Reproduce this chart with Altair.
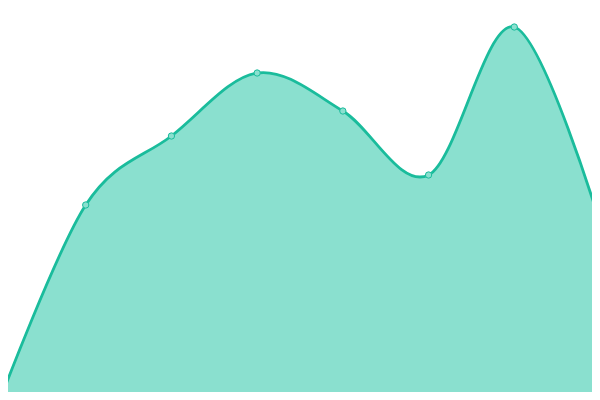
import altair as alt
import pandas as pd

# data (index along x, value along y)
idx = [0, 1, 2, 3, 4, 5, 6, 7]
values = [0, 195, 264, 327, 289, 225, 373, 177]

df = pd.DataFrame({"i": idx, "v": values})

# the page has an 8px margin: draw a 584x384 plot and shift the domains so
# that the marks land where they sit in the 600x400 reference
W, H = 584, 384
step = 600 / 7
xs = alt.Scale(domain=[8 / step, 592 / step], range=[0, W], nice=False, zero=False)
ys = alt.Scale(domain=[8, 392], range=[H, 0], nice=False, zero=False)

LINE = "#1abc9c"
FILL = "#8ae0cf"

base = alt.Chart(df).encode(
    x=alt.X("i:Q", scale=xs, axis=None),
    y=alt.Y("v:Q", scale=ys, axis=None),
)

area = base.mark_area(interpolate="cardinal", color=FILL, opacity=1, clip=True)
line = base.mark_line(interpolate="cardinal", color=LINE, strokeWidth=2.8, clip=True)
pts = base.mark_point(filled=True, fill=FILL, stroke=LINE, strokeWidth=1, size=40, opacity=1, clip=True)

chart = (
    alt.layer(area, line, pts)
    .properties(width=W, height=H, padding=0, background="white")
    .configure_view(stroke=None)
)

chart.save("out.html", embed_options={"renderer": "svg", "actions": False})
